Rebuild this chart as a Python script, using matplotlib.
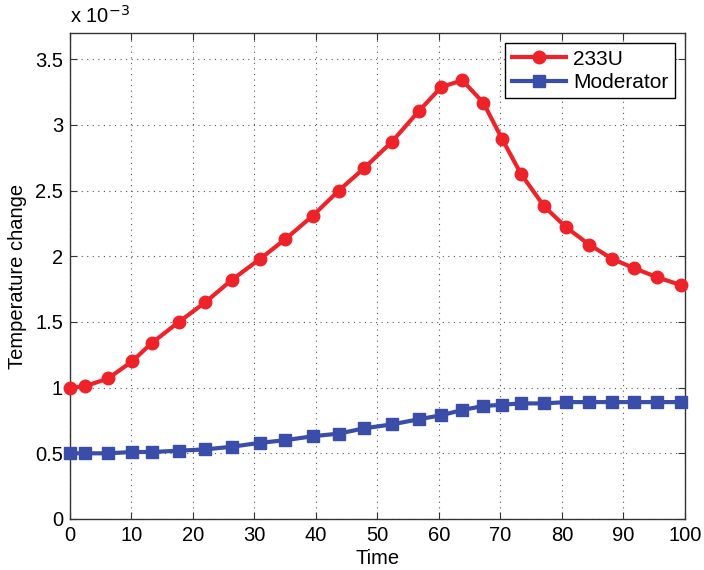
import matplotlib
matplotlib.use('Agg')
import matplotlib.pyplot as plt

plt.rcParams['font.family'] = ['Liberation Sans', 'DejaVu Sans']

# time steps
time = [0, 2.4, 6.2, 10.1, 13.3, 17.7, 22.0, 26.3, 30.9, 35.0, 39.5, 43.7, 47.8,
        52.3, 56.8, 60.4, 63.8, 67.2, 70.3, 73.3, 77.1, 80.7, 84.4, 88.2, 91.7,
        95.5, 99.4]

# temperature change, in units of 1e-3
u233 = [1.00, 1.01, 1.07, 1.20, 1.34, 1.50, 1.65, 1.82, 1.98, 2.13, 2.31, 2.50, 2.67,
        2.87, 3.11, 3.29, 3.34, 3.17, 2.89, 2.63, 2.38, 2.22, 2.09, 1.98, 1.91,
        1.84, 1.78]
moderator = [0.50, 0.50, 0.50, 0.51, 0.51, 0.52, 0.53, 0.55, 0.58, 0.60, 0.63, 0.65, 0.69,
             0.72, 0.76, 0.79, 0.83, 0.86, 0.87, 0.88, 0.88, 0.89, 0.89, 0.89, 0.89,
             0.89, 0.89]

red = '#EE2229'
blue = '#3A4DA8'
fs = 14.5

fig = plt.figure(figsize=(7.04, 5.70), dpi=100)
ax = fig.add_axes([0.0994, 0.0895, 0.8736, 0.8525])

ax.plot(time, u233, color=red, lw=3, marker='o', ms=9, mfc=red, mec=red,
        label='233U', clip_on=False, zorder=3)
ax.plot(time, moderator, color=blue, lw=3, marker='s', ms=9, mfc=blue, mec=blue,
        label='Moderator', clip_on=False, zorder=3)

ax.set_xlim(0, 100)
ax.set_ylim(0, 3.7)
ax.set_xticks(range(0, 101, 10))
ax.set_yticks([0, 0.5, 1, 1.5, 2, 2.5, 3, 3.5])
ax.set_yticklabels(['0', '0.5', '1', '1.5', '2', '2.5', '3', '3.5'])

ax.grid(True, linestyle=(0, (1, 4)), color='#555555', lw=0.8)
ax.tick_params(direction='in', top=True, right=True, labelsize=fs, length=5,
               color='#333333', pad=5)
for s in ax.spines.values():
    s.set_color('#333333')
    s.set_linewidth(1)

ax.set_xlabel('Time', fontsize=fs, labelpad=3)
ax.set_ylabel('Temperature change', fontsize=fs, labelpad=6)
ax.text(0, 1.012, r'x 10$^{-3}$', transform=ax.transAxes, fontsize=fs,
        ha='left', va='bottom')

leg = ax.legend(loc='upper right', fontsize=fs + 0.5, handlelength=2.6, fancybox=False,
                edgecolor='black', framealpha=1, borderaxespad=0.5,
                labelspacing=0.2, handletextpad=0.35, borderpad=0.3)
leg.get_frame().set_linewidth(1)

fig.savefig('out.png', dpi=100)
